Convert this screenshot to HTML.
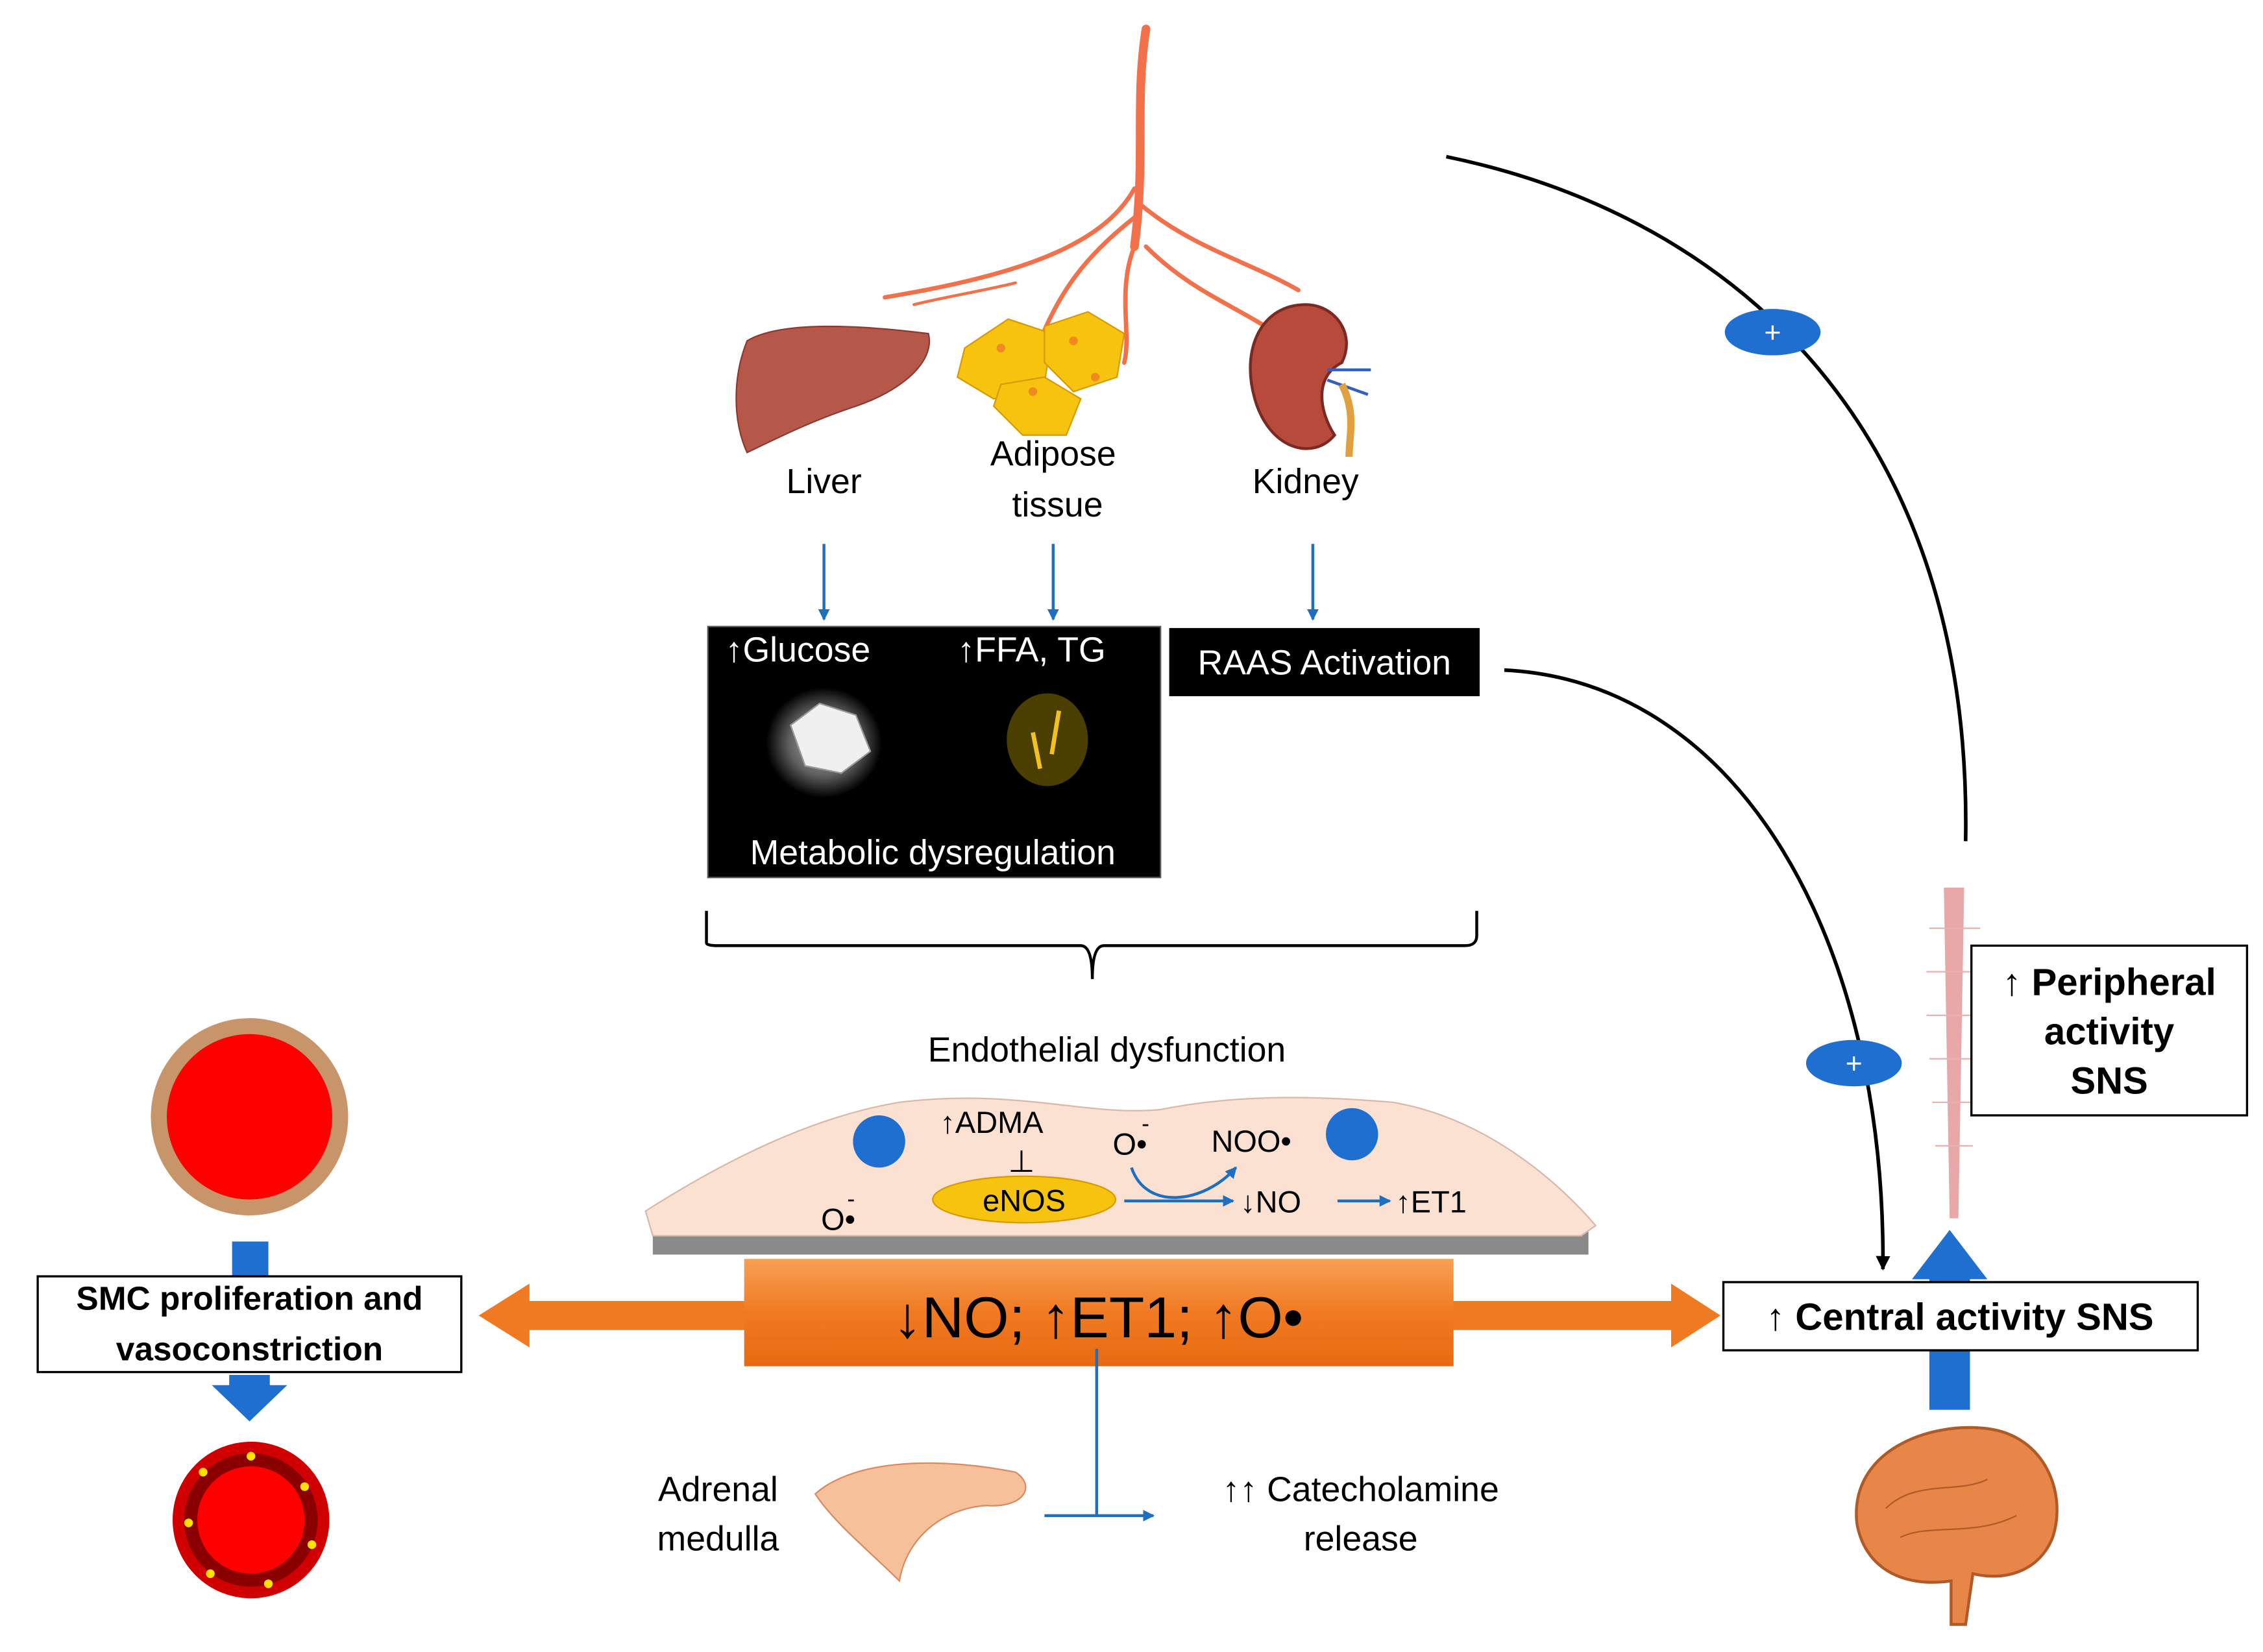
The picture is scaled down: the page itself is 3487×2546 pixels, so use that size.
<!DOCTYPE html>
<html><head><meta charset="utf-8"><style>
html,body{margin:0;padding:0;background:#fff}
svg{display:block}
text{font-family:"Liberation Sans",sans-serif}
</style></head><body>
<svg width="3487" height="2546" viewBox="0 0 1560 1139" xmlns="http://www.w3.org/2000/svg">
<defs>
<marker id="ab" markerWidth="8" markerHeight="8" refX="7" refY="4" orient="auto" markerUnits="userSpaceOnUse"><path d="M0,0 L8,4 L0,8 z" fill="#1f6fc0"/></marker>
<marker id="ak" markerWidth="10" markerHeight="10" refX="9" refY="5" orient="auto" markerUnits="userSpaceOnUse"><path d="M0,0 L10,5 L0,10 z" fill="#000"/></marker>
<linearGradient id="og" x1="0" y1="0" x2="0" y2="1"><stop offset="0" stop-color="#f7a054"/><stop offset="0.5" stop-color="#f07a22"/><stop offset="1" stop-color="#e86a10"/></linearGradient>
<radialGradient id="glow"><stop offset="0" stop-color="#fff"/><stop offset="0.6" stop-color="#888"/><stop offset="1" stop-color="#000"/></radialGradient>
</defs>
<!-- artery tree -->
<g stroke="#f2704a" fill="none" stroke-linecap="round">
<path d="M790,20 C782,70 790,110 782,170" stroke-width="6"/>
<path d="M782,130 C760,170 700,190 610,205" stroke-width="3"/>
<path d="M782,150 C750,175 730,200 715,240" stroke-width="3"/>
<path d="M782,170 C770,200 780,230 775,250" stroke-width="3"/>
<path d="M785,140 C820,170 860,180 895,200" stroke-width="3"/>
<path d="M790,170 C820,200 850,210 880,230" stroke-width="3"/>
<path d="M700,195 C680,200 650,205 630,210" stroke-width="2"/>
</g>
<!-- liver -->
<path d="M515,235 C540,220 600,225 640,230 C645,250 620,270 590,280 C560,290 540,300 515,312 C505,290 505,260 515,235z" fill="#b5584a" stroke="#8a3a30"/>
<!-- adipose -->
<g fill="#f6c40e" stroke="#d89a00">
<path d="M665,240 l30,-20 l30,10 l-5,35 l-35,10 l-25,-15z"/>
<path d="M720,225 l30,-10 l25,15 l-5,30 l-30,10 l-20,-20z"/>
<path d="M690,265 l30,-5 l25,15 l-10,25 l-30,0 l-20,-20z"/>
</g>
<g fill="#f08a20"><circle cx="690" cy="240" r="3"/><circle cx="740" cy="235" r="3"/><circle cx="712" cy="270" r="3"/><circle cx="755" cy="260" r="3"/></g>
<!-- kidney -->
<path d="M900,210 C870,210 855,240 865,275 C875,310 905,318 920,300 C910,285 905,260 925,250 C935,230 920,210 900,210z" fill="#b84a3c" stroke="#7a2a22" stroke-width="2"/>
<path d="M915,255 l30,0 M915,262 l28,10" stroke="#3060c0" stroke-width="2"/>
<path d="M925,265 C935,285 930,300 930,315" stroke="#e0a040" stroke-width="5" fill="none"/>
<!-- labels -->
<g font-size="24" text-anchor="middle" fill="#000">
<text x="568" y="340">Liver</text>
<text x="726" y="321">Adipose</text>
<text x="729" y="356">tissue</text>
<text x="900" y="340">Kidney</text>
</g>
<g stroke="#1f6fc0" stroke-width="2" marker-end="url(#ab)">
<line x1="568" y1="375" x2="568" y2="427"/>
<line x1="726" y1="375" x2="726" y2="427"/>
<line x1="905" y1="375" x2="905" y2="427"/>
</g>
<!-- black boxes -->
<rect x="488" y="432" width="312" height="173" fill="#000" stroke="#555"/>
<ellipse cx="568" cy="512" rx="40" ry="38" fill="url(#glow)" opacity="0.7"/>
<path d="M545,500 l20,-15 l25,8 l10,25 l-20,15 l-25,-5z" fill="#f0f0f0" stroke="#999"/>
<ellipse cx="722" cy="510" rx="28" ry="32" fill="#6a5a00" opacity="0.7"/>
<path d="M712,505 l5,25 M730,490 l-5,30" stroke="#f2c020" stroke-width="3"/>
<g font-size="24" fill="#fff">
<text x="500" y="456">↑Glucose</text>
<text x="660" y="456">↑FFA, TG</text>
<text x="643" y="596" text-anchor="middle">Metabolic dysregulation</text>
</g>
<rect x="806" y="433" width="214" height="47" fill="#000"/>
<text x="913" y="465" font-size="24" fill="#fff" text-anchor="middle">RAAS Activation</text>
<!-- brace -->
<path d="M487,628 L487,650 Q487,652 495,652 L745,652 Q753,652 753,675 Q753,652 761,652 L1010,652 Q1018,652 1018,645 L1018,628" fill="none" stroke="#000" stroke-width="2"/>
<text x="763" y="732" font-size="24" text-anchor="middle">Endothelial dysfunction</text>
<!-- cell -->
<rect x="450" y="843" width="645" height="22" fill="#8a8a8a"/>
<path d="M445,835 C500,800 560,770 620,760 C700,750 750,770 800,765 C850,755 900,755 960,760 C1020,770 1070,810 1100,845 L1090,852 L450,852 z" fill="#fbe1d2" stroke="#d8b8a8"/>
<circle cx="606" cy="787" r="18" fill="#1e6fd0"/>
<circle cx="932" cy="782" r="18" fill="#1e6fd0"/>
<ellipse cx="706" cy="827" rx="63" ry="16" fill="#f6c40e" stroke="#d89a00"/>
<g font-size="21" fill="#000">
<text x="648" y="781">↑ADMA</text>
<text x="695" y="808">⊥</text>
<text x="767" y="796">O•</text><text x="787" y="780" font-size="16">-</text>
<text x="835" y="794">NOO•</text>
<text x="855" y="836">↓NO</text>
<text x="962" y="836">↑ET1</text>
<text x="566" y="848">O•</text><text x="584" y="832" font-size="16">-</text>
<text x="706" y="835" text-anchor="middle">eNOS</text>
</g>
<path d="M780,805 C790,835 830,830 852,805" fill="none" stroke="#1f6fc0" stroke-width="2" marker-end="url(#ab)"/>
<line x1="775" y1="828" x2="850" y2="828" stroke="#1f6fc0" stroke-width="2" marker-end="url(#ab)"/>
<line x1="922" y1="828" x2="958" y2="828" stroke="#1f6fc0" stroke-width="2" marker-end="url(#ab)"/>
<!-- orange arrows -->
<rect x="360" y="897" width="160" height="20" fill="#f07a22"/>
<path d="M330,907 L365,885 L365,929z" fill="#f07a22"/>
<rect x="995" y="897" width="160" height="20" fill="#f07a22"/>
<path d="M1186,907 L1152,885 L1152,929z" fill="#f07a22"/>
<rect x="513" y="868" width="489" height="74" fill="url(#og)"/>
<text x="757" y="922" font-size="40" text-anchor="middle">↓NO; ↑ET1; ↑O•</text>
<!-- catecholamine -->
<line x1="756" y1="930" x2="756" y2="1045" stroke="#1f6fc0" stroke-width="2"/>
<line x1="720" y1="1045" x2="795" y2="1045" stroke="#1f6fc0" stroke-width="2" marker-end="url(#ab)"/>
<path d="M562,1030 C590,1005 650,1005 700,1015 C715,1025 705,1040 680,1038 C650,1040 625,1060 620,1090 C600,1070 575,1050 562,1030z" fill="#f5c09a" stroke="#d88a60"/>
<g font-size="24" text-anchor="middle">
<text x="495" y="1035">Adrenal</text>
<text x="495" y="1069">medulla</text>
<text x="938" y="1035">↑↑ Catecholamine</text>
<text x="938" y="1069">release</text>
</g>
<!-- left side -->
<circle cx="172" cy="770" r="68" fill="#c8946a"/>
<circle cx="172" cy="770" r="57" fill="#ff0000"/>
<rect x="160" y="856" width="25" height="26" fill="#1e6fd0"/>
<rect x="26" y="880" width="292" height="66" fill="#fff" stroke="#000" stroke-width="1.5"/>
<g font-size="23" font-weight="bold" text-anchor="middle">
<text x="172" y="903">SMC proliferation and</text>
<text x="172" y="938">vasoconstriction</text>
</g>
<path d="M158,948 L186,948 L186,955 L198,955 L172,980 L146,955 L158,955z" fill="#1e6fd0"/>
<circle cx="173" cy="1048" r="53" fill="#8a0000"/>
<circle cx="173" cy="1048" r="50" fill="none" stroke="#d00000" stroke-width="8"/>
<circle cx="173" cy="1048" r="37" fill="#ff0000"/>
<g fill="#ffe000"><circle cx="173" cy="1004" r="3"/><circle cx="210" cy="1025" r="3"/><circle cx="215" cy="1065" r="3"/><circle cx="185" cy="1092" r="3"/><circle cx="145" cy="1085" r="3"/><circle cx="130" cy="1050" r="3"/><circle cx="140" cy="1015" r="3"/></g>
<!-- right side curves -->
<path d="M997,108 C1200,150 1360,300 1355,580" fill="none" stroke="#000" stroke-width="2.5"/>
<path d="M1037,462 C1200,470 1300,650 1298,875" fill="none" stroke="#000" stroke-width="2.5" marker-end="url(#ak)"/>
<ellipse cx="1222" cy="229" rx="33" ry="16" fill="#1e6fd0"/>
<text x="1222" y="236" font-size="20" fill="#fff" text-anchor="middle">+</text>
<ellipse cx="1278" cy="733" rx="33" ry="16" fill="#1e6fd0"/>
<text x="1278" y="740" font-size="20" fill="#fff" text-anchor="middle">+</text>
<!-- nerve -->
<path d="M1340,612 L1354,612 L1350,840 L1344,840z" fill="#e8a8a8"/>
<g stroke="#e8b0b0" stroke-width="1"><path d="M1330,640 l35,0 M1328,670 l40,0 M1328,700 l40,0 M1330,730 l35,0 M1332,760 l30,0 M1334,790 l26,0"/></g>
<rect x="1359" y="652" width="190" height="117" fill="#fff" stroke="#000" stroke-width="1.5"/>
<g font-size="26" font-weight="bold" text-anchor="middle">
<text x="1454" y="686">↑ Peripheral</text>
<text x="1454" y="720">activity</text>
<text x="1454" y="754">SNS</text>
</g>
<path d="M1318,882 L1344,848 L1370,882 L1358,882 L1358,884 L1330,884 L1330,882z" fill="#1e6fd0"/>
<rect x="1330" y="930" width="28" height="42" fill="#1e6fd0"/>
<rect x="1188" y="884" width="327" height="47" fill="#fff" stroke="#000" stroke-width="1.5"/>
<text x="1351" y="917" font-size="26" font-weight="bold" text-anchor="middle">↑ Central activity SNS</text>
<!-- brain -->
<path d="M1280,1050 C1275,1000 1330,980 1370,985 C1410,990 1425,1030 1415,1060 C1405,1085 1380,1090 1360,1085 L1355,1120 L1345,1120 L1345,1090 C1310,1095 1285,1080 1280,1050z" fill="#e8864a" stroke="#b05a28" stroke-width="2"/>
<path d="M1300,1040 C1320,1020 1350,1030 1370,1020 M1310,1060 C1330,1050 1360,1060 1390,1045" stroke="#b05a28" fill="none"/>
</svg>
</body></html>
